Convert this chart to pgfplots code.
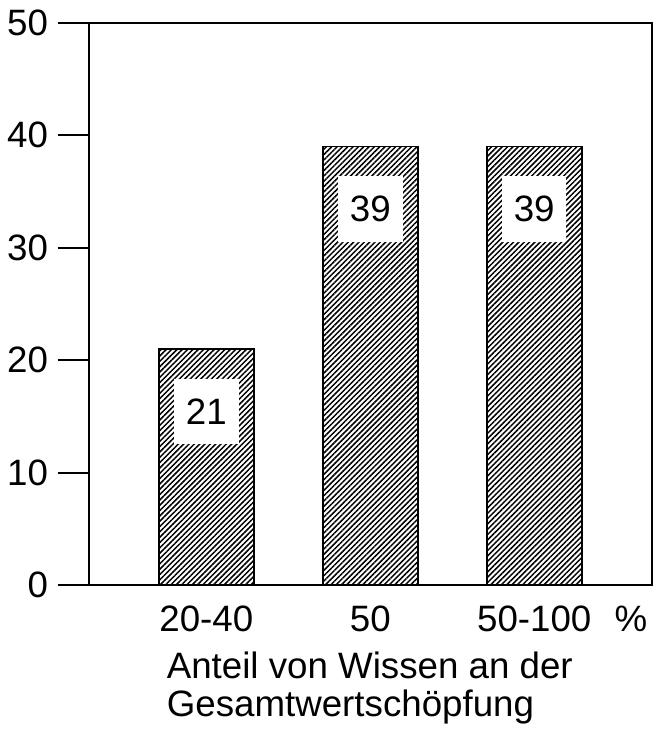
\documentclass[border=0pt]{standalone}
\usepackage{fontspec}
\setmainfont{Liberation Sans}
\usepackage{pgfplots}
\pgfplotsset{compat=1.18}
\usetikzlibrary{patterns.meta}
\begin{document}
\begin{tikzpicture}
\useasboundingbox (-90pt,-145pt) rectangle (576pt,590pt);
\begin{axis}[
  at={(0,0)}, anchor=south west,
  scale only axis,
  width=567pt, height=567pt,
  xmin=-0.714, xmax=2.716,
  ymin=0, ymax=50,
  axis line style={line width=1.8pt},
  /pgf/number format/assume math mode=true,
  ytick={0,10,20,30,40,50},
  ytick pos=left,
  tick align=outside,
  major tick length=32pt,
  ytick style={line width=1.8pt, black},
  yticklabel style={font=\fontsize{37}{44}\selectfont, anchor=east, xshift=-6pt},
  xtick={0,1,2,2.59},
  xticklabels={20-40,50,50-100,\%},
  xtick style={draw=none},
  xticklabel style={font=\fontsize{37}{44}\selectfont, anchor=base, yshift=-15pt},
  xlabel={Anteil von Wissen an der\\Gesamtwertschöpfung},
  xlabel style={font=\fontsize{37}{38.5}\selectfont, align=left, inner sep=0pt,
    at={(axis description cs:0.1376,0)}, anchor=north west, yshift=-67pt},
  ybar,
  bar width=96pt,
  nodes near coords,
  every node near coord/.append style={anchor=center, yshift=-63pt, fill=white,
    minimum width=65pt, minimum height=66pt, inner sep=0pt,
    font=\fontsize{37}{44}\selectfont, text=black},
]
\addplot[draw=black, line width=1.8pt,
  pattern={Lines[angle=45,distance=3.8pt,line width=1.5pt]}, pattern color=black]
  coordinates {(0,21) (1,39) (2,39)};
\end{axis}
\end{tikzpicture}
\end{document}
